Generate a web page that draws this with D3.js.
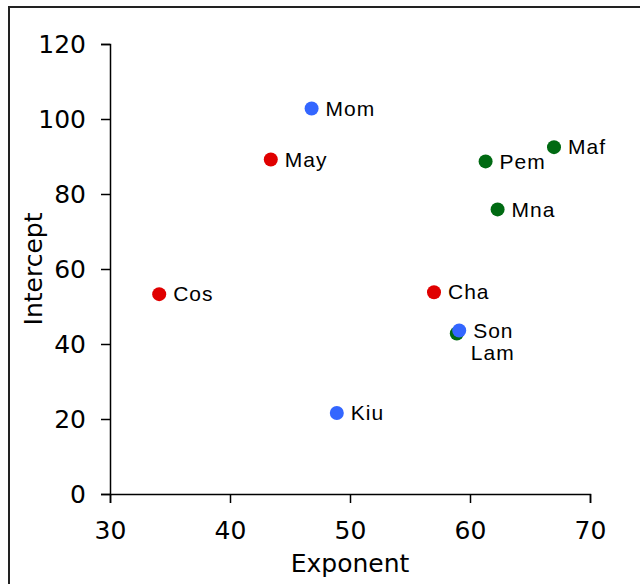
<!DOCTYPE html>
<html>
<head>
<meta charset="utf-8">
<script src="https://cdn.jsdelivr.net/npm/d3@7"></script>
<style>
  html, body { margin: 0; padding: 0; background: #fff; }
  svg { display: block; }
</style>
</head>
<body>
<svg id="chart" width="640" height="584"></svg>
<script>
// ---- data ----
const names     = ["Cos", "May", "Cha", "Lam", "Pem", "Maf", "Mna", "Mom", "Kiu", "Son"];
const exponent  = [34.1, 43.4, 57.0, 58.9, 61.3, 67.0, 62.3, 46.8, 48.9, 59.1];
const intercept = [53.3, 89.2, 53.8, 42.8, 88.7, 92.5, 75.9, 102.8, 21.6, 43.6];
const groups    = ["red", "red", "red", "green", "green", "green", "green", "blue", "blue", "blue"];
const xTicks    = [30, 40, 50, 60, 70];
const yTicks    = [0, 20, 40, 60, 80, 100, 120];

const colors = { red: "#e00000", green: "#006a12", blue: "#3366ff" };

const svg = d3.select("#chart");
const margin = { left: 110, right: 50, top: 44, bottom: 90 };
const W = 640, H = 584;

// frame
svg.append("rect")
  .attr("x", 9).attr("y", 7)
  .attr("width", 700).attr("height", 700)
  .attr("fill", "none").attr("stroke", "#222").attr("stroke-width", 2);

const x = d3.scaleLinear().domain([30, 70]).range([margin.left, W - margin.right]);
const y = d3.scaleLinear().domain([0, 120]).range([H - margin.bottom, margin.top]);

const font = "'DejaVu Sans', Verdana, sans-serif";

const gx = svg.append("g")
  .attr("transform", `translate(0,${y(0)})`)
  .call(d3.axisBottom(x).tickValues(xTicks).tickSize(9).tickPadding(18));
const gy = svg.append("g")
  .attr("transform", `translate(${x(30)},0)`)
  .call(d3.axisLeft(y).tickValues(yTicks).tickSize(9).tickPadding(15));

[gx, gy].forEach(g => {
  g.selectAll("text").attr("font-family", font).attr("font-size", 25).attr("fill", "#000");
  g.selectAll("path, line").attr("stroke", "#000").attr("stroke-width", 1.5);
});

svg.append("text")
  .attr("x", (x(30) + x(70)) / 2).attr("y", 572)
  .attr("text-anchor", "middle")
  .attr("font-family", font).attr("font-size", 25)
  .text("Exponent");

svg.append("text")
  .attr("transform", `translate(42,${(y(0) + y(120)) / 2}) rotate(-90)`)
  .attr("text-anchor", "middle")
  .attr("font-family", font).attr("font-size", 25)
  .text("Intercept");

const pts = names.map((n, i) => ({ name: n, x: exponent[i], y: intercept[i], g: groups[i] }));

svg.append("g").selectAll("circle").data(pts).join("circle")
  .attr("cx", d => x(d.x)).attr("cy", d => y(d.y))
  .attr("r", 7)
  .attr("fill", d => colors[d.g]);

// labels, with a simple collision rule: push a label down one line if it overlaps a placed one
const placed = [];
const lineH = 22;
pts.slice().sort((a, b) => b.y - a.y).forEach(d => {
  let lx = x(d.x) + 14, ly = y(d.y);
  for (const p of placed) {
    if (Math.abs(p.x - lx) < 40 && Math.abs(p.y - ly) < lineH) ly = p.y + lineH;
  }
  placed.push({ x: lx, y: ly, name: d.name });
});
svg.append("g").selectAll("text").data(placed).join("text")
  .attr("x", d => d.x).attr("y", d => d.y)
  .attr("dy", "0.34em")
  .attr("font-family", "'Liberation Sans', Arial, sans-serif")
  .attr("font-size", 21)
  .attr("letter-spacing", 1)
  .attr("fill", "#000")
  .text(d => d.name);
</script>
</body>
</html>
